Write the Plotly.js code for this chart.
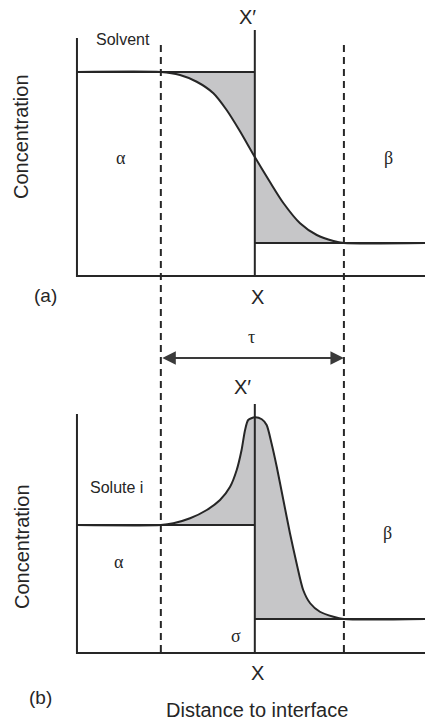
<!DOCTYPE html>
<html>
<head>
<meta charset="utf-8">
<script src="https://cdn.plot.ly/plotly-3.0.1.min.js"></script>
<style>
  html, body { margin: 0; padding: 0; background: #fff; }
  #chart { width: 425px; height: 724px; }
</style>
</head>
<body>
<div id="chart"></div>
<script>
// Distance axis (arbitrary units, 0 = left axis)
const interfaceX = 5.11;      // X–X′ plane
const diffuseStart = 2.41;    // left edge of the interface zone
const diffuseEnd = 7.67;      // right edge of the interface zone
const distanceMax = 10;

// (a) Solvent profile
const solventAlpha = 8.16;
const solventBeta = 1.32;
const solventX = [2.41, 2.96, 3.44, 3.92, 4.30, 4.68, 5.11, 5.55, 5.93, 6.41, 6.89, 7.37, 7.67];
const solventC = [8.16, 8.04, 7.77, 7.31, 6.64, 5.80, 4.76, 3.75, 2.92, 2.11, 1.64, 1.40, 1.32];

// (b) Solute i profile
const soluteAlpha = 5.12;
const soluteBeta = 1.36;
const soluteX = [2.41, 2.77, 3.25, 3.73, 4.11, 4.40, 4.59, 4.73, 4.83, 4.92, 5.11,
                 5.31, 5.45, 5.59, 5.74, 5.93, 6.12, 6.31, 6.50, 6.70, 6.98, 7.37, 7.67];
const soluteC = [5.12, 5.19, 5.39, 5.72, 6.12, 6.65, 7.32, 8.12, 8.92, 9.32, 9.43,
                 9.35, 9.12, 8.39, 7.45, 6.12, 4.79, 3.59, 2.52, 1.99, 1.65, 1.45, 1.36];

// Axis and interface line heights
const axisTopA = 9.52, interfaceTopA = 9.84;
const axisTopB = 9.56, interfaceTopB = 9.96;

const INK = '#262626';
const FILL = '#c6c6c8';
const SANS = '"Liberation Sans", Arial, Helvetica, sans-serif';
const SERIF = '"Liberation Serif", "Times New Roman", serif';

const W = 425, H = 724;
const px = v => v / W;
const py = v => 1 - v / H;

function splitAt(xs, ys, x0) {
  const left = { x: [], y: [] }, right = { x: [], y: [] };
  xs.forEach((x, i) => {
    if (x <= x0) { left.x.push(x); left.y.push(ys[i]); }
    if (x >= x0) { right.x.push(x); right.y.push(ys[i]); }
  });
  return [left, right];
}

function panelTraces(yaxis, xs, ys, levelA, levelB, axisTop, ifaceTop) {
  const [L, R] = splitAt(xs, ys, interfaceX);
  const line = (x, y, extra) => Object.assign({
    type: 'scatter', mode: 'lines', x, y, yaxis, xaxis: 'x',
    line: { color: INK, width: 2 }, hoverinfo: 'skip', showlegend: false
  }, extra || {});
  const noLine = { color: 'rgba(0,0,0,0)', width: 0 };
  return [
    // shaded excess regions
    line([L.x[0], interfaceX], [levelA, levelA], { line: noLine }),
    line(L.x, L.y, { line: Object.assign({ shape: 'spline', smoothing: 0.7 }, noLine), fill: 'tonexty', fillcolor: FILL }),
    line([interfaceX, R.x[R.x.length - 1]], [levelB, levelB], { line: noLine }),
    line(R.x, R.y, { line: Object.assign({ shape: 'spline', smoothing: 0.7 }, noLine), fill: 'tonexty', fillcolor: FILL }),
    // bulk levels
    line([0, interfaceX], [levelA, levelA]),
    line([interfaceX, distanceMax], [levelB, levelB]),
    // concentration profile
    line([0].concat(xs, [distanceMax]), [levelA].concat(ys, [levelB]),
         { line: { color: INK, width: 2, shape: 'spline', smoothing: 0.7 } }),
    // interface plane and axes
    line([interfaceX, interfaceX], [0, ifaceTop]),
    line([0, 0, distanceMax], [axisTop, 0, 0])
  ];
}

const data = [].concat(
  panelTraces('y', solventX, solventC, solventAlpha, solventBeta, axisTopA, interfaceTopA),
  panelTraces('y2', soluteX, soluteC, soluteAlpha, soluteBeta, axisTopB, interfaceTopB)
);

function label(text, x, y, size, family, extra) {
  return Object.assign({
    text, x: px(x), y: py(y), xref: 'paper', yref: 'paper',
    showarrow: false, xanchor: 'center', yanchor: 'middle',
    font: { family: family || SANS, size, color: INK }
  }, extra || {});
}

const annotations = [
  label('X′', 247, 17, 20),
  label('Solvent', 123, 39, 16),
  label('Concentration', 21, 137, 20, SANS, { textangle: -90 }),
  label('α', 121, 158, 18, SERIF),
  label('β', 388, 158, 18, SERIF),
  label('(a)', 45, 295, 19),
  label('X', 257, 297, 20),
  label('τ', 251, 337, 18, SERIF),
  label('X′', 242, 387, 20),
  label('Solute i', 117, 487, 16),
  label('Concentration', 22, 547, 20, SANS, { textangle: -90 }),
  label('α', 119, 562, 18, SERIF),
  label('β', 387, 533, 18, SERIF),
  label('σ', 236, 636, 18, SERIF),
  label('X', 257, 673, 20),
  label('(b)', 40, 697, 19),
  label('Distance to interface', 257, 710, 20),
  // width of the interface zone
  {
    x: diffuseEnd, y: py(358), xref: 'x', yref: 'paper',
    ax: diffuseStart, ay: 0, axref: 'x', ayref: 'pixel',
    text: '', showarrow: true, arrowside: 'end+start',
    arrowhead: 2, startarrowhead: 2, arrowsize: 1.5, startarrowsize: 1.5,
    arrowwidth: 1.8, arrowcolor: '#3a3a3a', standoff: 0, startstandoff: 0
  }
];

const dashed = x => ({
  type: 'line', xref: 'x', yref: 'paper',
  x0: x, x1: x, y0: py(652), y1: py(42),
  line: { color: INK, width: 2, dash: '7px,5px' }
});

const layout = {
  width: W, height: H,
  margin: { l: 0, r: 0, t: 0, b: 0 },
  paper_bgcolor: '#fff', plot_bgcolor: 'rgba(0,0,0,0)',
  showlegend: false,
  xaxis: { domain: [px(70), 1], range: [-0.2, distanceMax], visible: false, fixedrange: true },
  yaxis: { domain: [py(281), py(26)], range: [-0.2, 10], visible: false, fixedrange: true },
  yaxis2: { domain: [py(658), py(403)], range: [-0.2, 10], anchor: 'x', visible: false, fixedrange: true },
  shapes: [dashed(diffuseStart), dashed(diffuseEnd)],
  annotations
};

Plotly.newPlot('chart', data, layout, { displayModeBar: false, staticPlot: true });
</script>
</body>
</html>
